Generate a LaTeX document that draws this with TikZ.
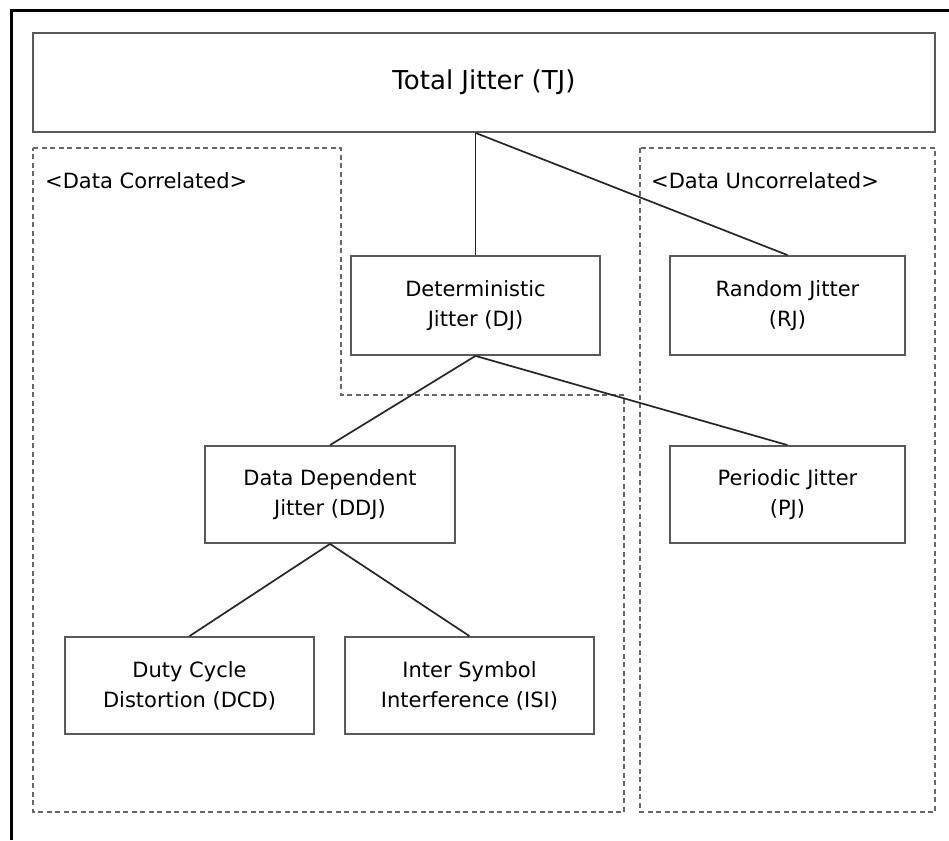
\documentclass[tikz,border=0pt]{standalone}
\usepackage{fontspec}
\setmainfont{DejaVu Sans}
\begin{document}
\begin{tikzpicture}[x=1pt,y=-1pt,
  boxnode/.style={draw=black!65, line width=1.8pt, rectangle, align=center,
    font=\fontsize{21}{30}\selectfont, inner sep=0pt},
  conn/.style={draw=black!85, line width=1.7pt},
  region/.style={draw=black!60, line width=1.5pt, dash pattern=on 5pt off 3.5pt},
  lbl/.style={font=\fontsize{21}{30}\selectfont, anchor=west, inner sep=0pt}]
\useasboundingbox (0,0) rectangle (949,840);
\fill[white] (0,0) rectangle (949,840);
% outer frame
\draw[line width=3pt, black] (11,840) -- (11,11) -- (949,11);
% regions
\draw[region] (33,148) -- (341,148) -- (341,395) -- (624,395) -- (624,812) -- (33,812) -- cycle;
\draw[region] (640,148) rectangle (935,812);
\node[lbl] (lc) at (45,181) {<Data Correlated>};
\node[lbl] (lu) at (651,181) {<Data Uncorrelated>};
% nodes
\node[boxnode, minimum width=902pt, minimum height=99pt, font=\fontsize{26}{30}\selectfont] (TJ) at (484,82.5) {Total Jitter (TJ)};
\node[boxnode, minimum width=249pt, minimum height=99pt] (DJ) at (475.5,305.5) {Deterministic\\Jitter (DJ)};
\node[boxnode, minimum width=235pt, minimum height=99pt] (RJ) at (787.5,305.5) {Random Jitter\\(RJ)};
\node[boxnode, minimum width=250pt, minimum height=97pt] (DDJ) at (330,494.5) {Data Dependent\\Jitter (DDJ)};
\node[boxnode, minimum width=235pt, minimum height=97pt] (PJ) at (787.5,494.5) {Periodic Jitter\\(PJ)};
\node[boxnode, minimum width=249pt, minimum height=97pt] (DCD) at (189.5,685.5) {Duty Cycle\\Distortion (DCD)};
\node[boxnode, minimum width=249pt, minimum height=97pt] (ISI) at (469.5,685.5) {Inter Symbol\\Interference (ISI)};
% connectors
\coordinate (tjb) at (DJ.north |- TJ.south);
\draw[conn] (tjb) -- (DJ.north);
\draw[conn] (tjb) -- (RJ.north);
\draw[conn] (DJ.south) -- (DDJ.north);
\draw[conn] (DJ.south) -- (PJ.north);
\draw[conn] (DDJ.south) -- (DCD.north);
\draw[conn] (DDJ.south) -- (ISI.north);
\end{tikzpicture}
\end{document}
